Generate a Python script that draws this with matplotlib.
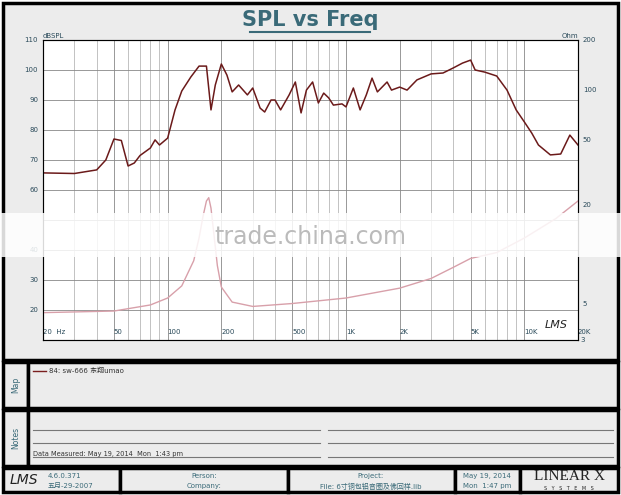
import numpy as np
import matplotlib.pyplot as plt
from matplotlib.patches import Rectangle
from matplotlib.ticker import NullLocator

plt.rcParams['font.family'] = ['DejaVu Sans', 'Noto Sans CJK SC']

# SPL response (Hz, dBSPL)
spl_freq = [20, 30, 40, 45, 50, 55, 60, 65, 70, 80, 85, 90, 100, 110, 120, 135, 150, 165,
            175, 185, 200, 215, 230, 250, 280, 300, 330, 350, 380, 400, 430, 480, 520, 560,
            600, 650, 700, 750, 800, 850, 950, 1000, 1100, 1200, 1300, 1400, 1500, 1700,
            1800, 2000, 2200, 2500, 3000, 3500, 4000, 4500, 5000, 5300, 6000, 7000, 8000,
            9000, 10000, 11000, 12000, 14000, 16000, 18000, 20000]
spl_db = [65.7, 65.5, 66.7, 70, 77, 76.5, 68, 69, 71.5, 74, 76.7, 75, 77.3, 86.7, 93, 97.7,
          101.3, 101.3, 86.7, 95, 102, 98.3, 92.7, 95, 91.7, 94, 87.3, 86, 90, 90, 86.7, 91.7,
          96, 85.7, 93.3, 96, 89, 92.3, 90.7, 88.3, 88.7, 87.7, 94, 86.7, 91.7, 97.3, 92.7,
          96, 93.3, 94.3, 93.3, 96.7, 98.7, 99, 100.7, 102.3, 103.3, 100, 99.3, 98, 93.3,
          86.7, 82.7, 79, 75, 71.7, 72, 78.3, 75]

# impedance (Hz, Ohm)
imp_freq = [20, 50, 80, 100, 120, 140, 150, 158, 165, 170, 175, 182, 190, 200, 230, 300, 500,
            1000, 2000, 3000, 4000, 5000, 7000, 10000, 15000, 20000]
imp_ohm = [4.4, 4.5, 4.9, 5.4, 6.4, 9.1, 12.5, 17, 21, 22, 19, 13, 8.5, 6.3, 5.1, 4.8, 5.0,
           5.4, 6.2, 7.1, 8.3, 9.4, 10.2, 12.5, 16.4, 21]

x_ticks = [20, 50, 100, 200, 500, 1000, 2000, 5000, 10000, 20000]
x_labels = ['20  Hz', '50', '100', '200', '500', '1K', '2K', '5K', '10K', '20K']

W, H = 621, 495
fig = plt.figure(figsize=(6.21, 4.95), dpi=100)
fig.patch.set_facecolor('white')

# page frame
bg = fig.add_axes([0, 0, 1, 1])
bg.set_xlim(0, W)
bg.set_ylim(H, 0)
bg.axis('off')
box_col = '#ececec'
def box(x0, y0, x1, y1, lw=2.5):
    bg.add_patch(Rectangle((x0, y0), x1 - x0, y1 - y0, fc=box_col, ec='black', lw=lw))
box(3, 3, 618, 360)
box(3, 362, 28, 408)
box(28, 362, 618, 408)
box(3, 410, 28, 466)
box(28, 410, 618, 466)
box(3, 468, 120, 492)
box(120, 468, 288, 492)
box(288, 468, 455, 492)
box(455, 468, 520, 492)
box(520, 468, 618, 492)

tc = '#3a6a78'
bg.text(310, 20, 'SPL vs Freq', ha='center', va='center', fontsize=15, fontweight='bold',
        color=tc)
bg.plot([250, 370], [32, 32], color=tc, lw=1.5)
bg.text(16, 385, 'Map', rotation=90, ha='center', va='center', fontsize=5.5, color=tc)
bg.text(16, 438, 'Notes', rotation=90, ha='center', va='center', fontsize=5.5, color=tc)
bg.plot([33, 46], [371, 371], color='#7a1f1f', lw=1)
bg.text(49, 371, '84: sw-666 东翔umao', va='center', fontsize=5, color='#333333')
for yy in [430, 443, 457]:
    bg.plot([33, 320], [yy, yy], color='#777777', lw=0.8)
    bg.plot([328, 613], [yy, yy], color='#777777', lw=0.8)
bg.text(33, 454, 'Data Measured: May 19, 2014  Mon  1:43 pm', fontsize=4.8, color='#333333',
        va='center')
bg.text(10, 480, 'LMS', fontsize=10, fontstyle='italic', va='center', color='#222222')
bg.text(48, 476, '4.6.0.371', fontsize=5, color=tc, va='center')
bg.text(48, 486, '五月-29-2007', fontsize=5, color=tc, va='center')
bg.text(204, 476, 'Person:', fontsize=5, color=tc, ha='center', va='center')
bg.text(204, 486, 'Company:', fontsize=5, color=tc, ha='center', va='center')
bg.text(371, 476, 'Project:', fontsize=5, color=tc, ha='center', va='center')
bg.text(371, 486, 'File: 6寸铜包铝音圈及佛回样.lib', fontsize=5, color=tc, ha='center',
        va='center')
bg.text(487, 476, 'May 19, 2014', fontsize=5, color=tc, ha='center', va='center')
bg.text(487, 486, 'Mon  1:47 pm', fontsize=5, color=tc, ha='center', va='center')
bg.text(569, 477, 'LINEAR X', fontsize=11, color='#222222', ha='center', va='center',
        family='Liberation Serif')
bg.text(569, 488, 'S   Y   S   T   E   M   S', fontsize=3.5, color='#222222', ha='center',
        va='center')

# main chart
ax = fig.add_axes([43 / W, (H - 340) / H, 535 / W, 300 / H])
ax.set_facecolor('white')
ax.set_xscale('log')
ax.set_xlim(20, 20000)
ax.set_ylim(10, 110)
ax.set_yticks(range(10, 111, 10))
ax.set_yticklabels(['', '20', '30', '40', '', '60', '70', '80', '90', '100', '110'])
ax.set_xticks(x_ticks)
ax.set_xticklabels(x_labels)
ax.grid(True, which='major', color='#888888', lw=0.6)
ax.grid(True, which='minor', axis='x', color='#aaaaaa', lw=0.5)
ax.tick_params(axis='both', which='both', length=0, labelsize=5, colors='#2a4a5a')
ax.tick_params(axis='x', pad=-8)
for lab in ax.get_xticklabels():
    lab.set_horizontalalignment('left')
for s in ax.spines.values():
    s.set_color('#555555')
ax.plot(spl_freq, spl_db, color='#6b1a1a', lw=1.1, zorder=3)
ax.text(0, 1.005, 'dBSPL', transform=ax.transAxes, fontsize=5, color='#2a4a5a', va='bottom')
ax.text(1, 1.005, 'Ohm', transform=ax.transAxes, fontsize=5, color='#2a4a5a', va='bottom',
        ha='right')

ax2 = ax.twinx()
ax2.set_yscale('log')
ax2.set_ylim(3, 200)
ax2.set_yticks([5, 20, 50, 100, 200])
ax2.set_yticklabels(['5', '20', '50', '100', '200'])
ax2.yaxis.set_minor_locator(NullLocator())
ax2.tick_params(axis='y', which='both', length=0, labelsize=5, colors='#2a4a5a')
ax2.plot(imp_freq, imp_ohm, color='#d8a0aa', lw=1.0, zorder=2)
ax2.text(1.005, 0.0, '3', transform=ax2.transAxes, fontsize=5, color='#2a4a5a', va='center')
ax2.text(0.96, 0.04, 'LMS', transform=ax2.transAxes, fontsize=8, fontstyle='italic',
         ha='center', color='#222222')

# watermark band
bg2 = fig.add_axes([0, 0, 1, 1], zorder=5)
bg2.set_xlim(0, W)
bg2.set_ylim(H, 0)
bg2.axis('off')
bg2.add_patch(Rectangle((0, 213), W, 44, fc='white', ec='none', alpha=0.85))
bg2.text(310, 237, 'trade.china.com', ha='center', va='center', fontsize=17, color='#bbbbbb')

fig.savefig('out.png', dpi=100)
